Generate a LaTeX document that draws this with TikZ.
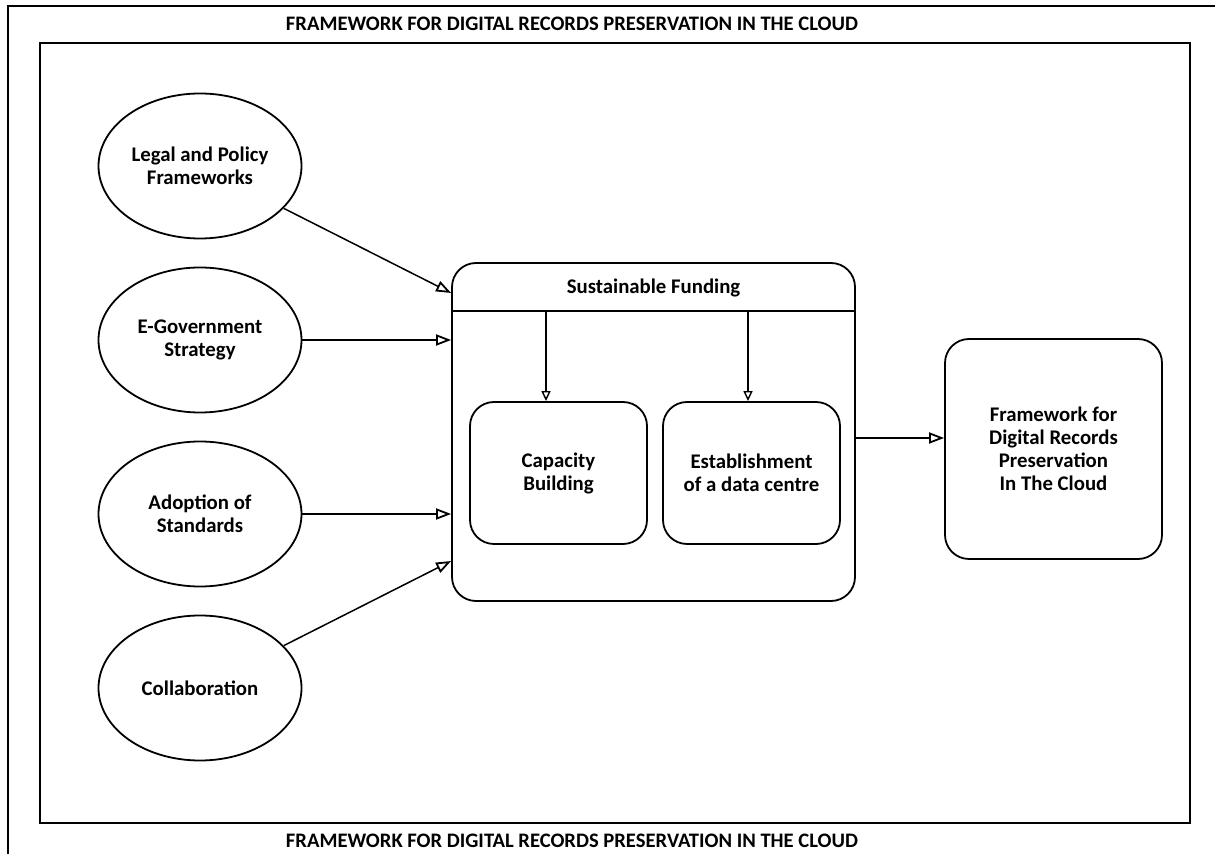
\documentclass[tikz,border=0pt]{standalone}
\usepackage{fontspec}
\setmainfont{Carlito}
\usetikzlibrary{arrows.meta,shapes.geometric}
\begin{document}
\begin{tikzpicture}[x=0.5pt,y=-0.5pt,
  every node/.style={font=\bfseries\fontsize{10.4}{11.5}\selectfont, align=center, inner sep=0pt},
  ell/.style={draw, line width=0.9pt, ellipse, minimum width=101.5pt, minimum height=72.5pt},
  rbox/.style={draw, line width=0.9pt, rectangle, rounded corners=12pt},
  arr/.style={line width=0.75pt, -{Triangle[open, length=7.5pt, width=5.5pt, line width=0.9pt]}},
  arrs/.style={line width=0.6pt, -{Triangle[open, length=5pt, width=4.5pt, line width=0.7pt]}},
  ttl/.style={font=\bfseries\fontsize{10.3}{11}\selectfont}]
\useasboundingbox (0,0) rectangle (1215,854);
% frames
\draw[line width=1pt] (8,854) -- (8,6) -- (1215,6);
\draw[line width=1pt] (40,43) rectangle (1190,823);
\node[ttl] (t1) at (572,24) {FRAMEWORK FOR DIGITAL RECORDS PRESERVATION IN THE CLOUD};
\node[ttl] (t2) at (572,841) {FRAMEWORK FOR DIGITAL RECORDS PRESERVATION IN THE CLOUD};
% ellipses
\node[ell] (legal) at (200,166) {Legal and Policy\\Frameworks};
\node[ell] (egov) at (200,340) {E-Government\\Strategy};
\node[ell] (adopt) at (200,514) {Adoption of\\Standards};
\node[ell] (collab) at (200,688) {Collaboration};
% big box
\node[rbox, minimum width=201.5pt, minimum height=169pt] (big) at (653.5,432) {};
\coordinate (hl) at (452,311);
\coordinate (hr) at (855,311);
\draw[line width=1.1pt] (hl) -- (hr);
\node (fund) at (653.5,288) {Sustainable Funding};
\node[rbox, minimum width=88.5pt, minimum height=71pt] (cap) at (558.5,473) {Capacity\\Building};
\node[rbox, minimum width=88.5pt, minimum height=71pt] (est) at (751.5,473) {Establishment\\of a data centre};
\node[rbox, minimum width=108.5pt, minimum height=110pt] (out) at (1053.5,449) {Framework for\\Digital Records\\Preservation\\In The Cloud};
% connectors
\coordinate (a1) at (546,311);
\coordinate (a2) at (748,311);
\draw[arrs] (a1) -- (a1 |- cap.north);
\draw[arrs] (a2) -- (a2 |- est.north);
\draw[arr] (legal) -- (big.west |- 0,293);
\draw[arr] (egov.east) -- (big.west |- egov.east);
\draw[arr] (adopt.east) -- (big.west |- adopt.east);
\draw[arr] (collab) -- (big.west |- 0,561);
\draw[arr] (big.east |- 0,438) -- (out.west |- 0,438);
\end{tikzpicture}
\end{document}
